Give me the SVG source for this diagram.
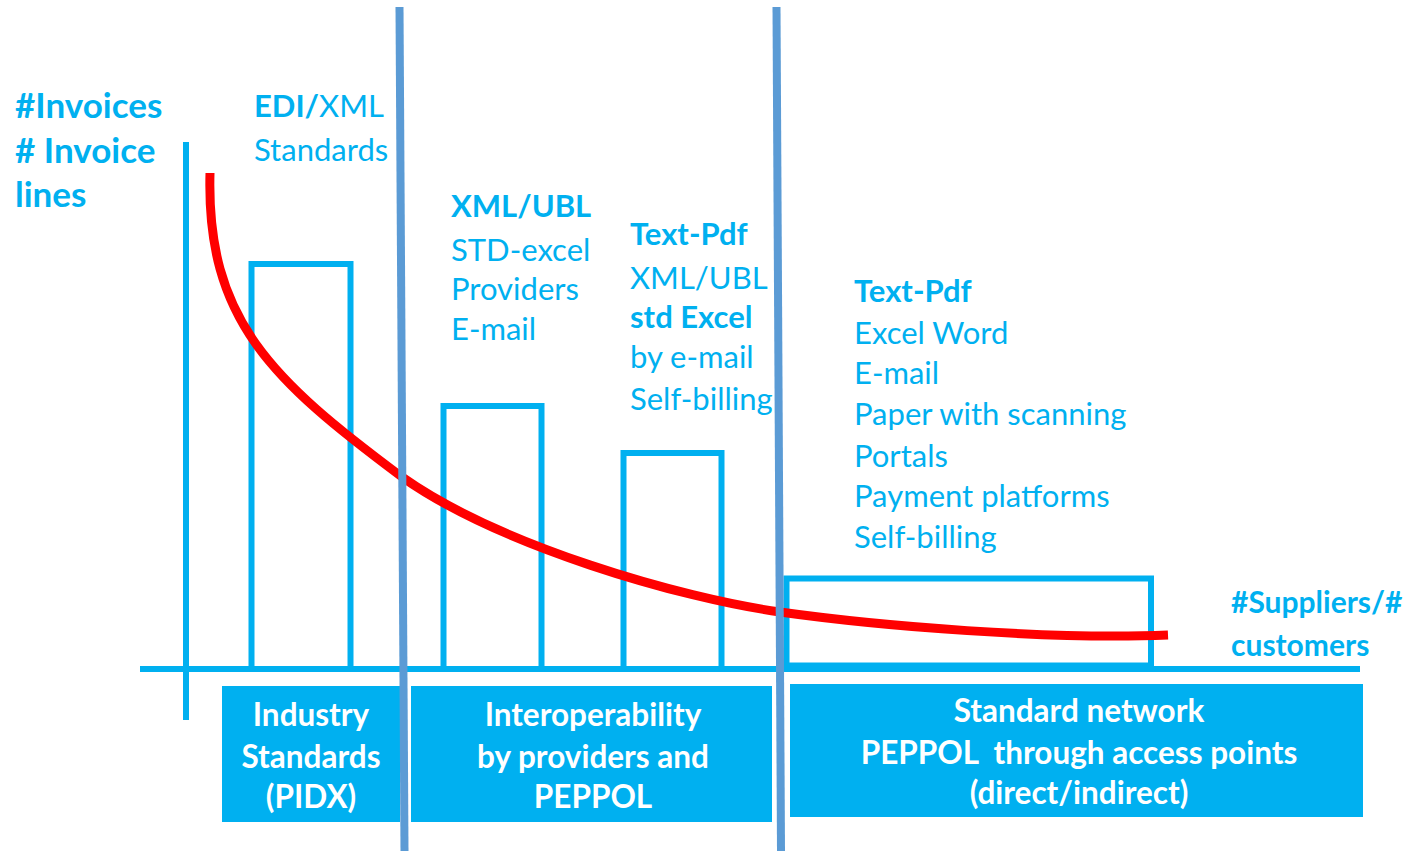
<svg xmlns="http://www.w3.org/2000/svg" width="1417" height="851" viewBox="0 0 1417 851">
<style>
.t{font-family:Lato,"Open Sans","Liberation Sans",sans-serif;fill:#00B0F0;font-size:31px}
.b{font-weight:bold}
.w{font-family:Lato,"Open Sans","Liberation Sans",sans-serif;fill:#FFFFFF;font-size:31.5px;font-weight:bold;text-anchor:middle}
.bar{fill:none;stroke:#00B0F0;stroke-width:6}
.box{fill:#00B0F0}
.axis{stroke:#00B0F0;stroke-width:6;fill:none}
.div{stroke:#5B9BD5;stroke-width:8;fill:none}
</style>
<rect width="1417" height="851" fill="#FFFFFF"/>
<g id="axes">
<line class="axis" x1="186" y1="142" x2="186" y2="720"/>
<line class="axis" x1="140" y1="669" x2="1360" y2="669"/>
</g>
<g id="bar1"><rect class="bar" x="251.5" y="264" width="99" height="405"/></g>
<g id="bar2"><rect class="bar" x="443.5" y="406" width="98" height="263"/></g>
<g id="bar3"><rect class="bar" x="623.5" y="453" width="98" height="216"/></g>
<g id="bar4"><rect class="bar" x="786.5" y="578.5" width="364.5" height="87"/></g>
<g id="box1"><rect class="box" x="222" y="686" width="178" height="136"/>
<text class="w" x="311" y="726">Industry</text>
<text class="w" x="311" y="768">Standards</text>
<text class="w" x="311" y="808">(PIDX)</text></g>
<g id="box2"><rect class="box" x="411" y="686" width="361" height="136"/>
<text class="w" x="593" y="726">Interoperability</text>
<text class="w" x="593" y="768">by providers and</text>
<text class="w" x="593" y="808">PEPPOL</text></g>
<g id="box3"><rect class="box" x="790" y="684" width="573" height="133"/>
<text class="w" x="1079" y="722">Standard network</text>
<text class="w" x="1079" y="764" xml:space="preserve">PEPPOL  through access points</text>
<text class="w" x="1079" y="804">(direct/indirect)</text></g>
<g id="yaxis-label">
<text class="t b" x="15" y="118" style="font-size:35px">#Invoices</text>
<text class="t b" x="15" y="163" style="font-size:35px"># Invoice</text>
<text class="t b" x="15" y="207" style="font-size:35px">lines</text>
</g>
<g id="xaxis-label">
<text class="t b" x="1231" y="613" style="font-size:30px">#Suppliers/#</text>
<text class="t b" x="1231" y="656" style="font-size:30px">customers</text>
</g>
<g id="label1">
<text class="t" x="254" y="117"><tspan class="b">EDI/</tspan>XML</text>
<text class="t" x="254" y="161">Standards</text>
</g>
<g id="label2">
<text class="t b" x="451" y="217">XML/UBL</text>
<text class="t" x="451" y="261">STD-excel</text>
<text class="t" x="451" y="300">Providers</text>
<text class="t" x="451" y="340">E-mail</text>
</g>
<g id="label3">
<text class="t b" x="630" y="245">Text-Pdf</text>
<text class="t" x="630" y="289">XML/UBL</text>
<text class="t b" x="630" y="328">std Excel</text>
<text class="t" x="630" y="368">by e-mail</text>
<text class="t" x="630" y="410">Self-billing</text>
</g>
<g id="label4">
<text class="t b" x="854" y="302">Text-Pdf</text>
<text class="t" x="854" y="344">Excel Word</text>
<text class="t" x="854" y="384">E-mail</text>
<text class="t" x="854" y="425">Paper with scanning</text>
<text class="t" x="854" y="467">Portals</text>
<text class="t" x="854" y="507">Payment platforms</text>
<text class="t" x="854" y="548">Self-billing</text>
</g>
<g id="curve">
<path d="M210,173 C206,320 272,380 402,477 C500,546 680,598 780,612 C880,626 1050,640 1168,635" fill="none" stroke="#FF0000" stroke-width="9"/>
</g>
<g id="connectors">
<line class="div" x1="399.5" y1="7" x2="404.5" y2="851"/>
<line class="div" x1="776.5" y1="7" x2="781" y2="851"/>
</g>
</svg>
